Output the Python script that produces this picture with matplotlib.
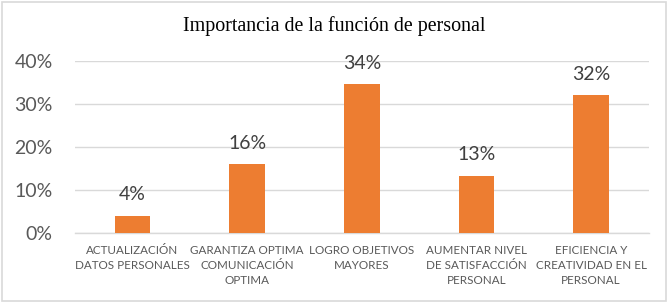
import matplotlib
matplotlib.use("Agg")
import matplotlib.pyplot as plt
from matplotlib.patches import Rectangle
from matplotlib.ticker import PercentFormatter

title = "Importancia de la función de personal"
categories = [
    "ACTUALIZACIÓN\nDATOS PERSONALES",
    "GARANTIZA OPTIMA\nCOMUNICACIÓN\nOPTIMA",
    "LOGRO OBJETIVOS\nMAYORES",
    "AUMENTAR NIVEL\nDE SATISFACCIÓN\nPERSONAL",
    "EFICIENCIA Y\nCREATIVIDAD EN EL\nPERSONAL",
]
values = [0.04, 0.16, 0.346, 0.133, 0.32]
value_labels = ["4%", "16%", "34%", "13%", "32%"]
y_ticks = [0.0, 0.1, 0.2, 0.3, 0.4]

W, H = 668, 303
fig = plt.figure(figsize=(W / 100, H / 100), dpi=100)
fig.patch.set_facecolor("white")

ax = fig.add_axes([75 / W, (H - 233) / H, 573.5 / W, 172 / H])
x = list(range(len(categories)))
bar_color = "#ED7D31"
ax.bar(x, values, width=0.31, color=bar_color, zorder=3)

ax.set_xlim(-0.5, len(categories) - 0.5)
ax.set_ylim(0, 0.4)
ax.set_yticks(y_ticks)
ax.yaxis.set_major_formatter(PercentFormatter(1.0, decimals=0))
ax.grid(axis="y", color="#D9D9D9", linewidth=1.0, zorder=0)
for s in ["top", "right", "left"]:
    ax.spines[s].set_visible(False)
ax.spines["bottom"].set_color("#D9D9D9")
ax.spines["bottom"].set_linewidth(1.0)
ax.spines["bottom"].set_zorder(1)

ax.set_xticks(x)
ax.set_xticklabels(categories, fontsize=8.4, color="#595959", family="Lato",
                   linespacing=1.42)
ax.tick_params(axis="x", length=0, pad=9)
ax.tick_params(axis="y", length=0, pad=16, labelsize=14, labelcolor="#595959")
for lab in ax.get_yticklabels():
    lab.set_family("Lato")

for xi, v, lbl in zip(x, values, value_labels):
    ax.annotate(lbl, (xi, v), xytext=(0, 9), textcoords="offset points",
                ha="center", va="bottom", fontsize=14, color="#404040",
                family="Lato")

fig.text(0.5, 1 - 26 / H, title, ha="center", va="center",
         fontsize=14.4, family="Liberation Serif", color="black")

fig.patches.append(Rectangle((2 / W, 2 / H), (W - 4) / W, (H - 4) / H,
                             transform=fig.transFigure, fill=False,
                             edgecolor="#D9D9D9", linewidth=1.2))

fig.savefig("out.png", dpi=100, facecolor="white")
